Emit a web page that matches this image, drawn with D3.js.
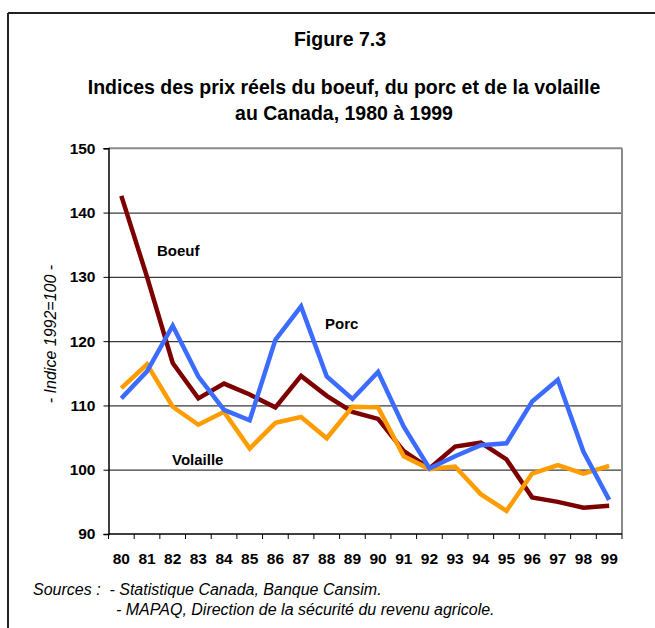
<!DOCTYPE html>
<html>
<head>
<meta charset="utf-8">
<script src="https://cdn.jsdelivr.net/npm/d3@7"></script>
<style>
  body { margin: 0; background: #fff; }
  text { font-family: Arial, "Liberation Sans", sans-serif; }
</style>
</head>
<body>
<svg id="chart"></svg>
<script>
// data
let years = ["80","81","82","83","84","85","86","87","88","89","90","91","92","93","94","95","96","97","98","99"];
let boeuf = [142.6,130.0,116.6,111.1,113.4,111.7,109.7,114.6,111.5,109.0,107.9,102.9,100.2,103.6,104.2,101.6,95.7,95.0,94.1,94.4];
let porc = [111.1,115.3,122.4,114.5,109.3,107.7,120.2,125.4,114.5,111.0,115.2,106.7,100.2,102.1,103.8,104.1,110.6,114.0,102.8,95.3];
let volaille = [112.7,116.4,109.8,107.0,109.0,103.3,107.3,108.2,104.9,109.8,109.7,102.1,100.1,100.5,96.2,93.6,99.4,100.7,99.4,100.6];
let yTicks = [90,100,110,120,130,140,150];

let width = 655, height = 628;
let margin = {left: 108.5, right: 33, top: 148.3, bottom: 94};

let svg = d3.select("#chart")
            .attr("width", width)
            .attr("height", height);

// outer frame (top + left only)
svg.append("line").attr("x1", 8).attr("x2", width).attr("y1", 13).attr("y2", 13)
    .style("stroke", "#222").style("stroke-width", 2);
svg.append("line").attr("x1", 8).attr("x2", 8).attr("y1", 13).attr("y2", height)
    .style("stroke", "#222").style("stroke-width", 2);

// titles
svg.append("text")
    .attr("x", 340).attr("y", 46)
    .style("text-anchor", "middle").style("font-weight", "bold").style("font-size", "19.5px")
    .text("Figure 7.3");
svg.append("text")
    .attr("x", 344).attr("y", 94)
    .style("text-anchor", "middle").style("font-weight", "bold").style("font-size", "19.5px")
    .text("Indices des prix réels du boeuf, du porc et de la volaille");
svg.append("text")
    .attr("x", 344).attr("y", 120)
    .style("text-anchor", "middle").style("font-weight", "bold").style("font-size", "19.5px")
    .text("au Canada, 1980 à 1999");

let x = d3.scaleBand().domain(years).range([margin.left, width - margin.right]).padding(0);
let y = d3.scaleLinear().domain([90, 150]).range([height - margin.bottom, margin.top]);
let cx = d => x(d) + x.bandwidth() / 2;

// grid
let grid = svg.append("g")
    .attr("transform", `translate(${margin.left},0)`)
    .call(d3.axisLeft(y).tickValues(yTicks.slice(1, -1)).tickSize(-(width - margin.right - margin.left)).tickFormat(""));
grid.select(".domain").remove();
grid.selectAll("line").style("stroke", "#3a3a3a").style("stroke-width", 1.2);

// plot top and right borders
svg.append("line").attr("x1", margin.left).attr("x2", width - margin.right)
    .attr("y1", y(150)).attr("y2", y(150))
    .style("stroke", "#8a8a8a").style("stroke-width", 2);
svg.append("line").attr("x1", width - margin.right).attr("x2", width - margin.right)
    .attr("y1", y(150)).attr("y2", y(90))
    .style("stroke", "#8a8a8a").style("stroke-width", 2);

// y axis
let y_axis = svg.append("g")
    .attr("transform", `translate(${margin.left},0)`)
    .call(d3.axisLeft(y).tickValues(yTicks).tickSize(5).tickPadding(8).tickFormat(d3.format("d")));
y_axis.select(".domain").style("stroke", "#000").style("stroke-width", 1.5);
y_axis.selectAll("line").style("stroke", "#000");
y_axis.selectAll("text")
    .style("font-size", "15.5px").style("font-weight", "bold").style("fill", "#000");

// x axis: labels, then ticks on category boundaries
let x_axis = svg.append("g")
    .attr("transform", `translate(0,${y(90)})`)
    .call(d3.axisBottom(x).tickSize(0).tickPadding(19));
x_axis.select(".domain").remove();
x_axis.selectAll("text")
    .style("font-size", "15.5px").style("font-weight", "bold").style("fill", "#000");

let bounds = years.map(d => x(d)).concat([x(years[years.length - 1]) + x.bandwidth()]);
svg.append("g").selectAll("line")
    .data(bounds)
    .join("line")
    .attr("x1", d => d).attr("x2", d => d)
    .attr("y1", y(90)).attr("y2", y(90) + 5)
    .style("stroke", "#000");
svg.append("line").attr("x1", margin.left).attr("x2", width - margin.right)
    .attr("y1", y(90)).attr("y2", y(90))
    .style("stroke", "#000").style("stroke-width", 1.5);

// y label
svg.append("text")
    .attr("transform", `translate(56,${334}) rotate(-90)`)
    .style("text-anchor", "middle").style("font-style", "italic").style("font-size", "16px")
    .text("- Indice 1992=100 -");

// series
let line = d3.line().x((d, i) => cx(years[i])).y(d => y(d));
let series = [
    {name: "Boeuf", values: boeuf, color: "#7d0000"},
    {name: "Volaille", values: volaille, color: "#ff9c00"},
    {name: "Porc", values: porc, color: "#3c6cff"}
];
svg.append("g").selectAll("path")
    .data(series)
    .join("path")
    .attr("d", d => line(d.values))
    .style("fill", "none")
    .style("stroke", d => d.color)
    .style("stroke-width", 4.5)
    .style("stroke-linejoin", "miter");

// series labels
let labels = [
    {text: "Boeuf", x: 157, y: 256},
    {text: "Porc", x: 325, y: 329},
    {text: "Volaille", x: 172, y: 465}
];
svg.append("g").selectAll("text")
    .data(labels)
    .join("text")
    .attr("x", d => d.x).attr("y", d => d.y)
    .style("font-size", "15px").style("font-weight", "bold")
    .text(d => d.text);

// sources
svg.append("text")
    .attr("x", 33).attr("y", 595)
    .style("font-style", "italic").style("font-size", "16px").style("white-space", "pre")
    .text("Sources :  - Statistique Canada, Banque Cansim.");
svg.append("text")
    .attr("x", 116).attr("y", 615)
    .style("font-style", "italic").style("font-size", "16px")
    .text("- MAPAQ, Direction de la sécurité du revenu agricole.");
</script>
</body>
</html>
